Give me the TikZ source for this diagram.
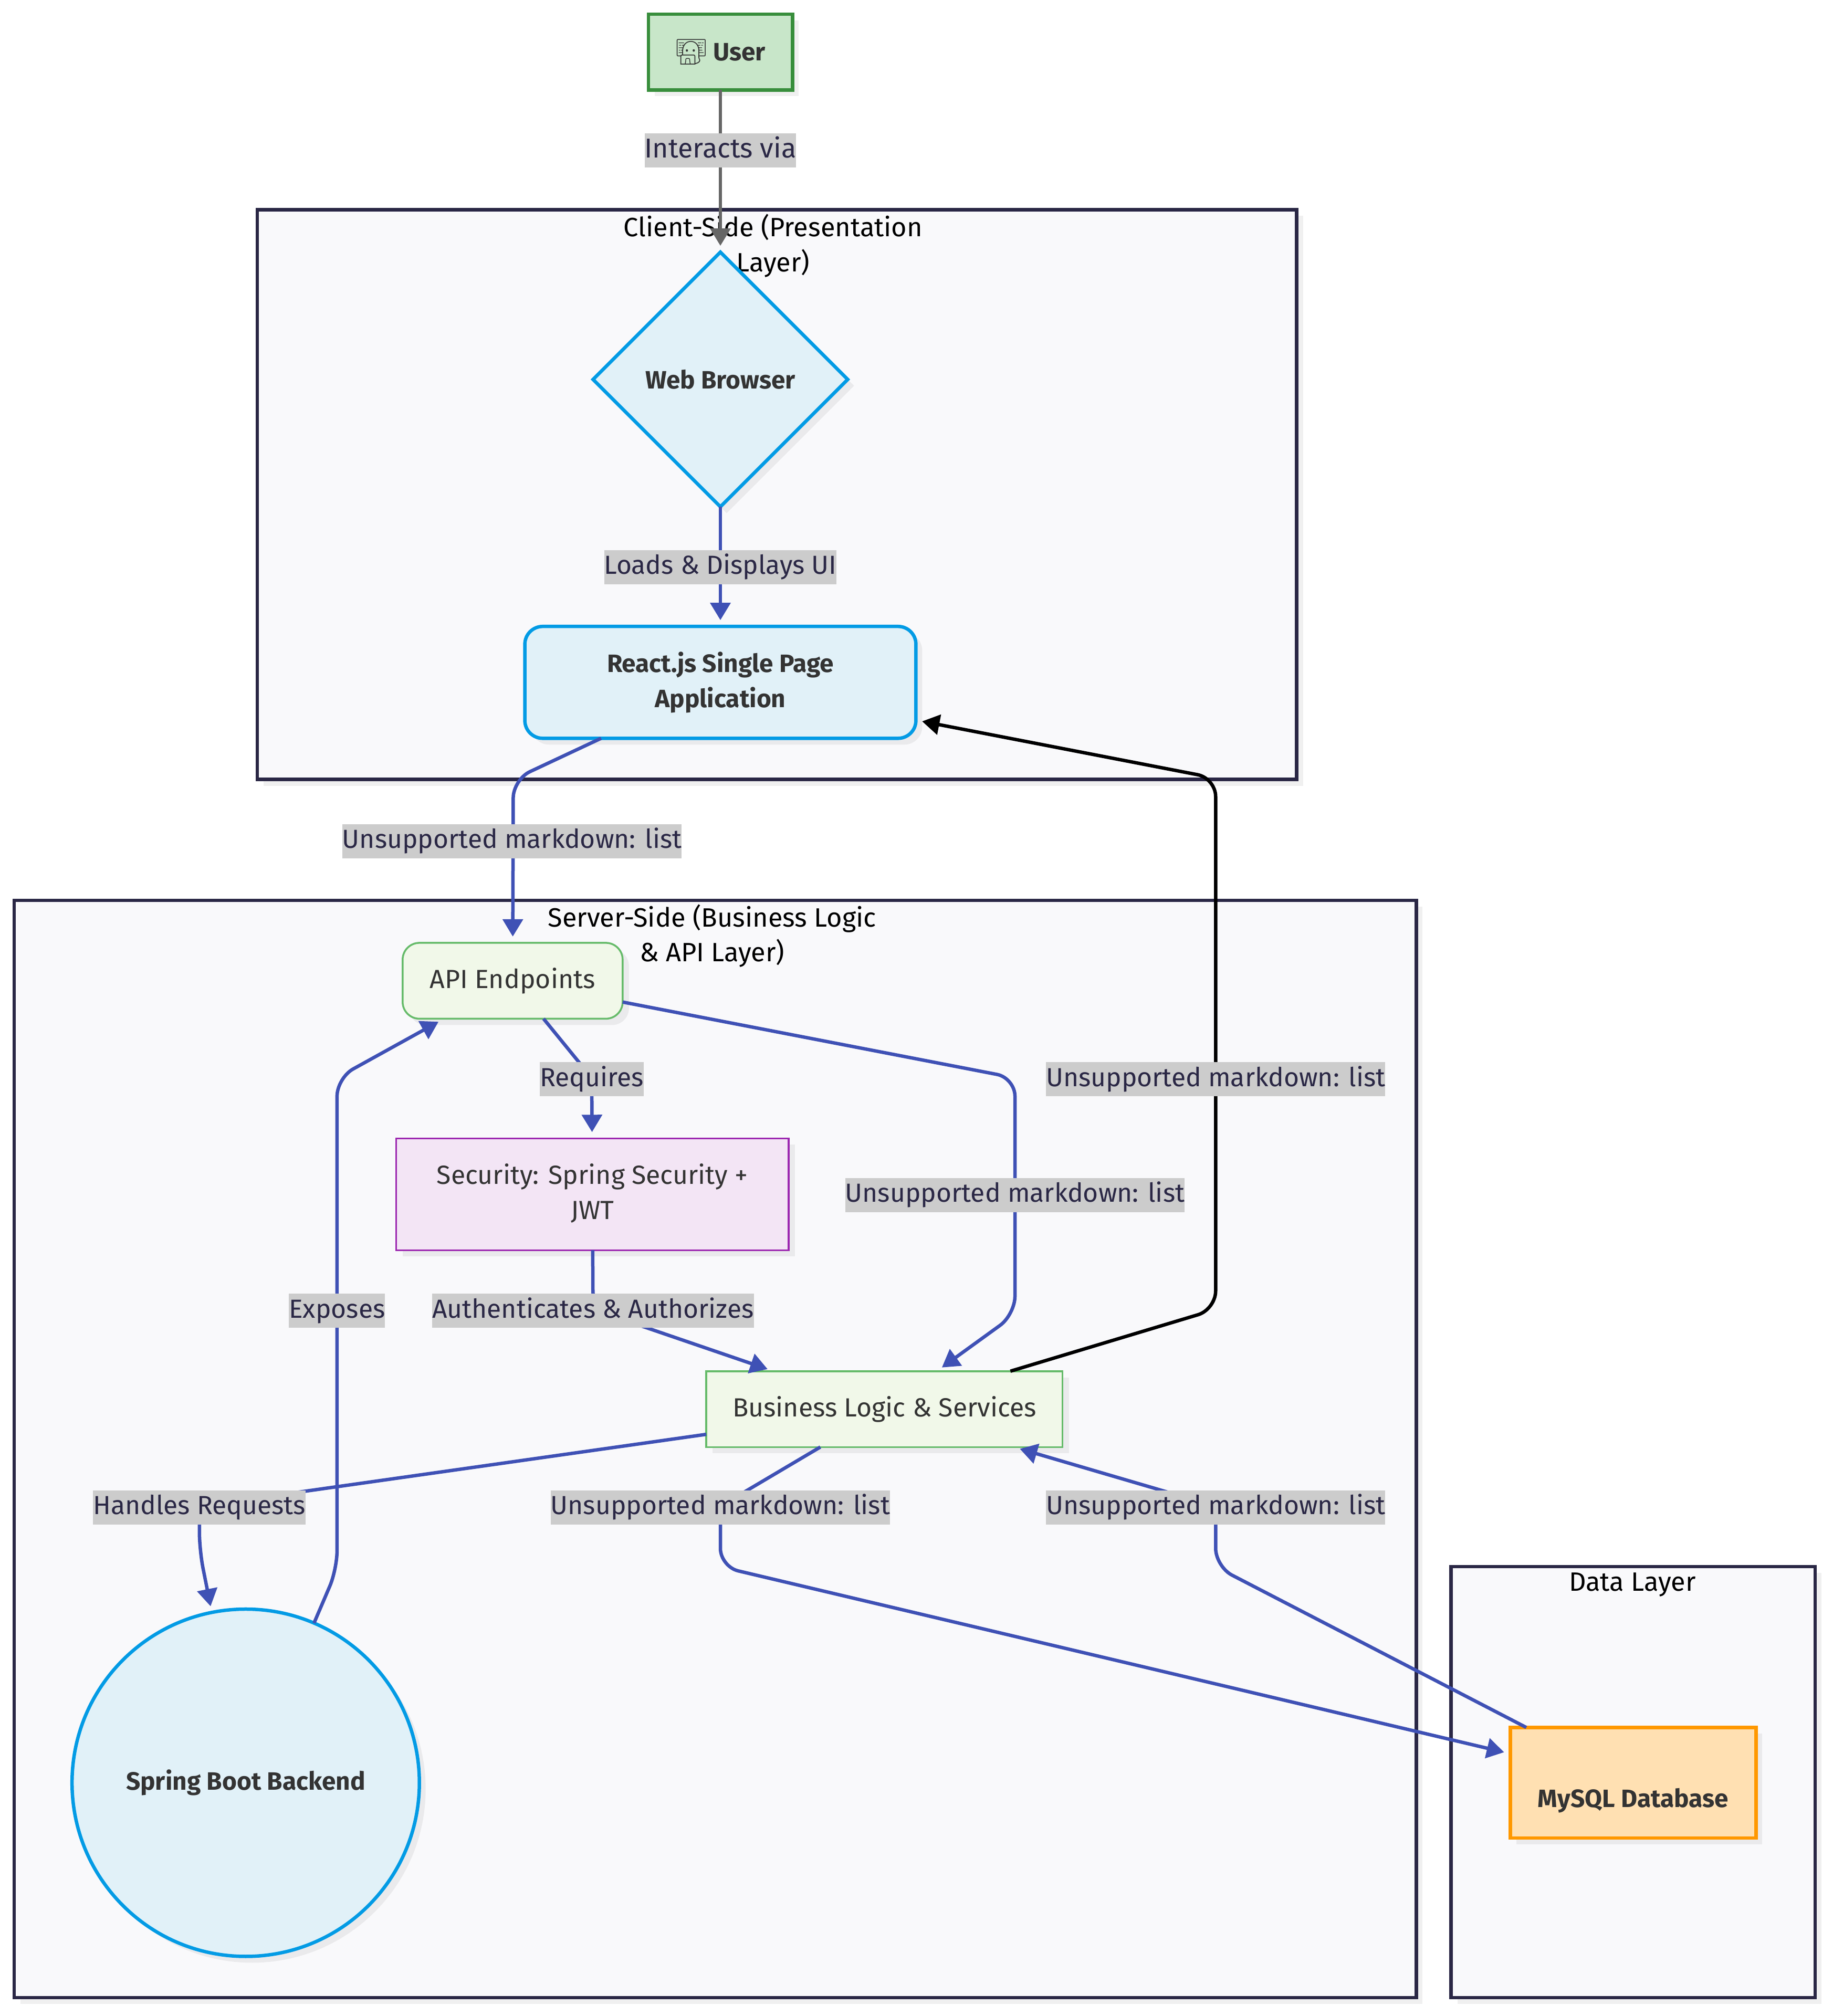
\documentclass[tikz,border=0pt]{standalone}
\usepackage{fontspec}
\usepackage{xcolor}
\setmainfont{Fira Sans}
\newfontfamily\emojifont{Noto Emoji}
\usetikzlibrary{arrows.meta,shapes.geometric,shadows}

\definecolor{linkblue}{HTML}{3F51B5}
\definecolor{linkgray}{HTML}{666666}
\definecolor{labelgray}{HTML}{CCCCCC}
\definecolor{labelink}{HTML}{2A2745}
\definecolor{clusterline}{HTML}{2A2745}
\definecolor{clusterfill}{HTML}{F9F9FB}
\definecolor{nodeink}{HTML}{333333}
\definecolor{userline}{HTML}{388E3C}
\definecolor{userfill}{HTML}{C8E6C9}
\definecolor{skyline}{HTML}{039BE5}
\definecolor{skyfill}{HTML}{E1F1F8}
\definecolor{leafline}{HTML}{66BB6A}
\definecolor{leaffill}{HTML}{F1F8E9}
\definecolor{plumline}{HTML}{9C27B0}
\definecolor{plumfill}{HTML}{F3E5F5}
\definecolor{dbline}{HTML}{FF9800}
\definecolor{dbfill}{HTML}{FFE0B2}

\tikzset{
  flat shadow/.style={general shadow={fill=black,opacity=0.06,shadow xshift=1.2pt,shadow yshift=-1.2pt}},
  cluster/.style={draw=clusterline,fill=clusterfill,line width=0.65pt,flat shadow,inner sep=0,outer sep=0},
  clustertitle/.style={inner sep=0,align=center,text=black,font=\fontsize{5.05}{6.64}\selectfont},
  boxnode/.style={flat shadow,inner sep=0,outer sep=0,align=center,text=nodeink},
  mainnode/.style={boxnode,line width=0.65pt,font=\fontsize{4.78}{6.64}\selectfont\bfseries},
  subnode/.style={boxnode,line width=0.35pt,font=\fontsize{5}{6.64}\selectfont},
  link/.style={draw=linkblue,line width=0.65pt,rounded corners=3.5pt,shorten >=1.2pt,-{Triangle[length=3.3pt,width=3.8pt]}},
  linklabel/.style={fill=labelgray,text=labelink,inner xsep=0,inner ysep=0.7pt,text height=3.9pt,text depth=1.2pt,font=\fontsize{4.98}{6.64}\selectfont},
}

\begin{document}
\begin{tikzpicture}[x=0.245pt,y=0.245pt,yscale=-1,xscale=1]
    \useasboundingbox (0,0) rectangle (1424.9,1567.35);

    %Shape: clusters
    \node [cluster,minimum width=197.95pt,minimum height=108.51pt] (client) at (604,384.5) {};
    \node [cluster,minimum width=267.04pt,minimum height=208.96pt] (server) at (556,1126.5) {};
    \node [cluster,minimum width=69.33pt,minimum height=82.07pt] (data) at (1269.5,1385.5) {};

    % Text Node
    \node [clustertitle] (clienttitle) at (601,191) {Client-Side (Presentation\\Layer)};
    \node [clustertitle] (servertitle) at (553.5,727.5) {Server-Side (Business Logic\\\& API Layer)};
    \node [clustertitle] (datatitle) at (1269,1232) {Data Layer};

    %Shape: nodes
    \node [mainnode,draw=userline,fill=userfill,minimum width=27.45pt,minimum height=14.45pt] (user) at (560,40.5) {{\emojifont 🧑‍💻} User};
    \node [mainnode,diamond,aspect=1,draw=skyline,fill=skyfill,minimum width=48.51pt,minimum height=48.51pt] (browser) at (560,295) {Web Browser};
    \node [mainnode,rounded corners=3.4pt,draw=skyline,fill=skyfill,minimum width=74.48pt,minimum height=21.31pt] (react) at (560,530.5) {React.js Single Page\\Application};
    \node [subnode,rounded corners=3.2pt,draw=leafline,fill=leaffill,minimum width=41.9pt,minimum height=14.45pt] (api) at (398.5,762.5) {API Endpoints};
    \node [subnode,draw=plumline,fill=plumfill,minimum width=74.72pt,minimum height=21.31pt] (security) at (460.5,928.5) {Security: Spring Security +\\JWT\vphantom{g}};
    \node [subnode,draw=leafline,fill=leaffill,minimum width=67.86pt,minimum height=14.45pt] (logic) at (687.5,1095.5) {Business Logic \& Services};
    \node [mainnode,circle,draw=skyline,fill=skyfill,minimum width=66.15pt] (spring) at (191,1386) {Spring Boot Backend};
    \node [mainnode,draw=dbline,fill=dbfill,minimum width=46.79pt,minimum height=21.06pt] (mysql) at (1269.5,1386) {\raisebox{-4.7pt}[0pt][0pt]{MySQL Database}};

    %Shape: bends of the connectors
    \coordinate (reactdown) at (399,606);
    \coordinate (requiresbend) at (460,838);
    \coordinate (apiright) at (789,838);
    \coordinate (apilow) at (789,1022);
    \coordinate (authbend) at (461,1018);
    \coordinate (resplow) at (945,1018);
    \coordinate (resptop) at (945,605);
    \coordinate (handlesa) at (155,1171);
    \coordinate (handlesb) at (155,1205);
    \coordinate (exposelow) at (262,1220);
    \coordinate (exposetop) at (262,838);
    \coordinate (querya) at (560,1171);
    \coordinate (queryb) at (560,1218);
    \coordinate (resulta) at (945,1218);
    \coordinate (resultb) at (945,1171);

    %Straight Lines and Curve Lines
    \draw [link,draw=linkgray,linkgray] (user) -- (browser);
    \draw [link] (browser) -- (react);
    \draw [link] (react) -- (reactdown) -- (api);
    \draw [link] (api) -- (requiresbend) -- (security);
    \draw [link] (api) -- (apiright) -- (apilow) -- (logic);
    \draw [link] (security) -- (authbend) -- (logic);
    \draw [link,draw=black,black] (logic) -- (resplow) -- (resptop) -- (react);
    \draw [link] (logic) -- (handlesa) -- (handlesb) -- (spring);
    \draw [link] (spring) -- (exposelow) -- (exposetop) -- (api);
    \draw [link] (logic) -- (querya) -- (queryb) -- (mysql);
    \draw [link] (mysql) -- (resulta) -- (resultb) -- (logic);

    % Text Node
    \node [linklabel,font=\fontsize{5.2}{6.64}\selectfont] (lbinteracts) at (560,117) {Interacts via};
    \node [linklabel] (lbloads) at (560,441) {Loads \& Displays UI};
    \node [linklabel] (lbreact) at (398,654) {Unsupported markdown: list};
    \node [linklabel] (lbrequires) at (460,839) {Requires};
    \node [linklabel] (lbapi) at (789,929) {Unsupported markdown: list};
    \node [linklabel] (lbresp) at (945,839) {Unsupported markdown: list};
    \node [linklabel] (lbexposes) at (262,1019) {Exposes};
    \node [linklabel] (lbauth) at (461,1019) {Authenticates \& Authorizes};
    \node [linklabel] (lbhandles) at (155,1172) {Handles Requests};
    \node [linklabel] (lbquery) at (560,1172) {Unsupported markdown: list};
    \node [linklabel] (lbresult) at (945,1172) {Unsupported markdown: list};
\end{tikzpicture}
\end{document}
